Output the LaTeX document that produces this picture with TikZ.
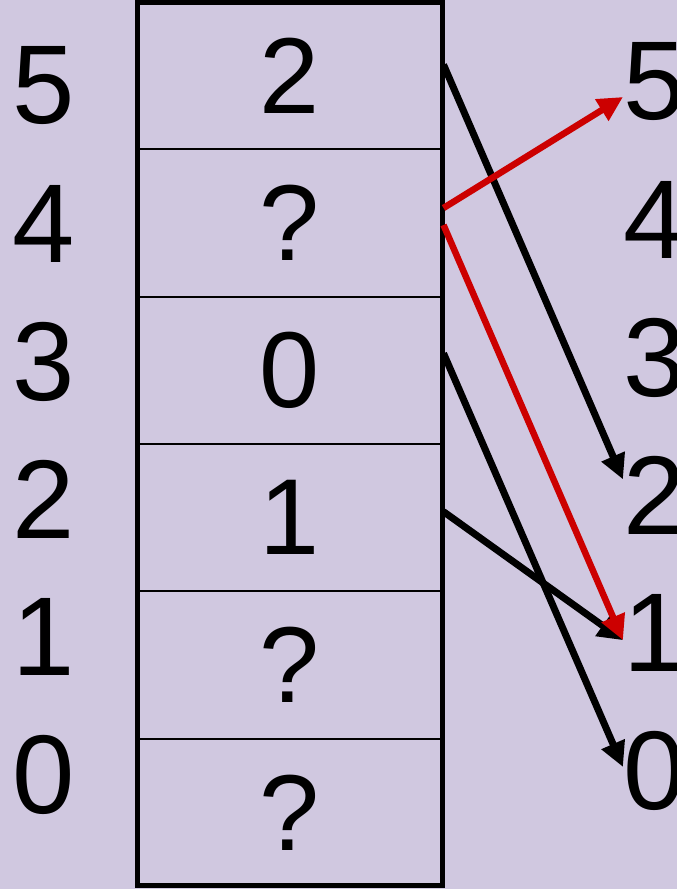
\documentclass[tikz,border=0pt]{standalone}
\usepackage{fontspec}
\setmainfont{Liberation Sans}
\usetikzlibrary{arrows.meta,calc}
\definecolor{bgc}{RGB}{208,200,224}
\definecolor{redc}{RGB}{204,0,0}
\begin{document}
\begin{tikzpicture}[x=1pt,y=-1pt,
  cell/.style={draw=black,line width=2pt,minimum width=305pt,minimum height=147.33pt,inner sep=0pt,font=\fontsize{108}{108}\selectfont},
  lbl/.style={inner sep=0pt,font=\fontsize{112}{112}\selectfont},
  rlbl/.style={inner sep=0pt,anchor=west,font=\fontsize{112}{112}\selectfont},
  blk/.style={draw=black,line width=7pt,-{Triangle[length=25pt,width=24pt]}},
  rd/.style={draw=redc,line width=6.5pt,-{Triangle[length=25pt,width=24pt]}}]
\fill[bgc] (0,0) rectangle (677,889);
\useasboundingbox (0,0) rectangle (677,889);
% cells
\foreach \i/\t [count=\k from 0] in {5/2,4/?,3/0,2/1,1/?,0/?}{
  \node[cell] (c\i) at (290,{75.67+147.33*\k}) {\t};
}
\draw[line width=5.5pt] (137.5,2.5) rectangle (442.5,885.5);
% labels
\foreach \i [count=\k from 0] in {5,4,3,2,1,0}{
  \node[lbl] (l\i) at (44,{86+137.8*\k}) {\i};
  \node[rlbl] (r\i) at (623,{82+137.8*\k}) {\i};
}
% arrows
\draw[blk] ($(c5.east)+(0,-11)$) -- ($(r2.west)+(0,-16)$);
\draw[blk] ($(c3.east)+(0,-17)$) -- ($(r0.west)+(0,-4)$);
\draw[blk] ($(c2.east)+(0,-6)$) -- ($(r1.west)+(0,7)$);
\draw[rd] ($(c4.east)+(0,-15)$) -- ($(r5.west)+(0,15)$);
\draw[rd] ($(c4.east)+(0,2)$) -- ($(r1.west)+(0,7)$);
\end{tikzpicture}
\end{document}
